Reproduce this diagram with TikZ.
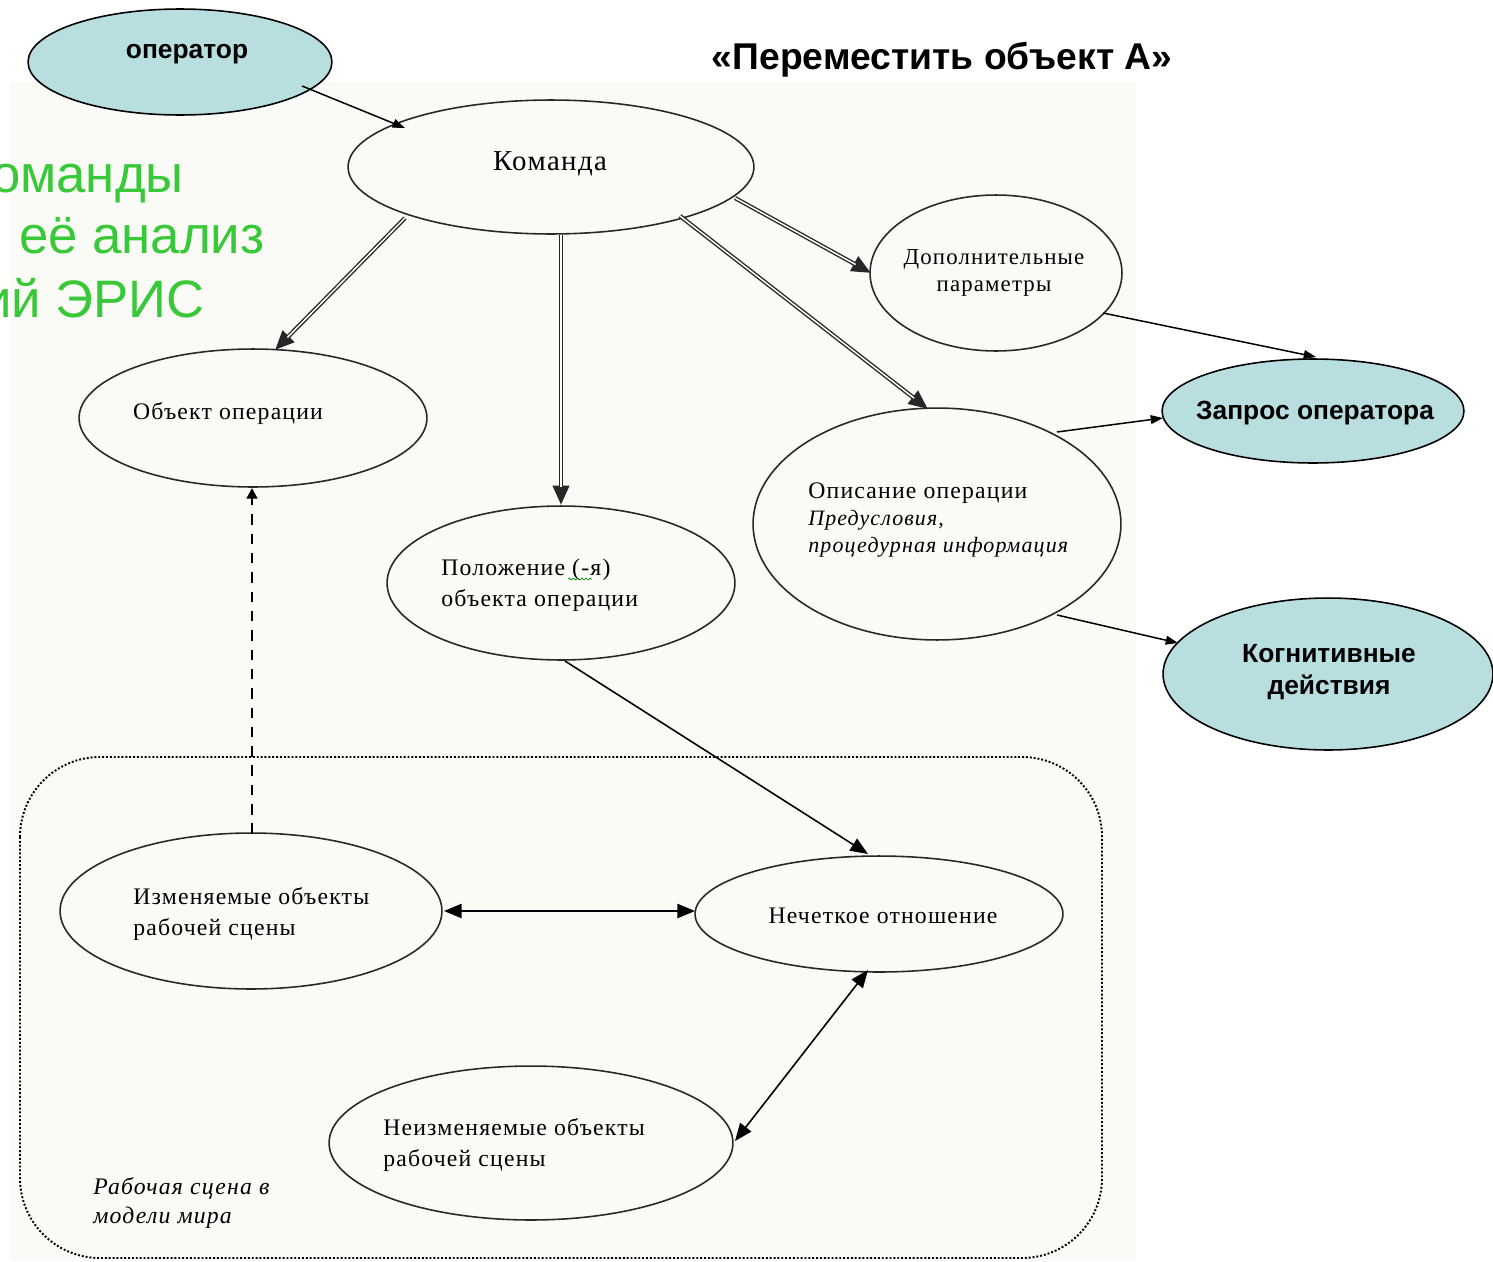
\documentclass[tikz,border=0pt]{standalone}
\usepackage{fontspec}
\setmainfont{Liberation Serif}
\setsansfont{Liberation Sans}
\newfontfamily\scrfont[LetterSpace=5]{Liberation Serif}
\usetikzlibrary{calc,arrows.meta,shapes.geometric,decorations.pathmorphing}

\definecolor{lightblue}{RGB}{184,222,224}
\definecolor{slidegreen}{RGB}{56,200,56}
\definecolor{shotbg}{RGB}{250,250,247}
\definecolor{outline}{RGB}{40,40,40}

\tikzset{
  esize/.style 2 args={minimum width={#1*0.04cm}, minimum height={#2*0.04cm}},
  ell/.style={ellipse, draw=outline, line width=0.9pt, inner sep=0pt},
  blueell/.style={ellipse, draw=black, line width=0.9pt, fill=lightblue, inner sep=0pt},
  lbl/.style={inner sep=0pt, font=\scrfont\fontsize{13.5}{17.6}\selectfont, align=left},
  boldlbl/.style={inner sep=0pt, font=\sffamily\bfseries\fontsize{15}{18}\selectfont, align=center},
  greentxt/.style={inner sep=0pt, text=slidegreen, font=\sffamily\fontsize{30}{36}\selectfont},
  thinarrow/.style={draw=black, line width=0.85pt, -{Triangle[length=7pt,width=5pt]}},
  wordarrow/.style={draw=black, line width=0.9pt, -{Triangle[length=10pt,width=8pt]}},
  twoway/.style={draw=black, line width=0.9pt, {Triangle[length=10pt,width=8pt]}-{Triangle[length=10pt,width=8pt]}},
  dblouter/.style={draw=black!85, line width=2.4pt, -{Triangle[length=11pt,width=9pt]}},
  dblinner/.style={draw=shotbg, line width=0.85pt, shorten >=10pt},
  dashedarrow/.style={draw=black, line width=1.3pt, dash pattern=on 6pt off 5pt, -{Triangle[length=6pt,width=6pt]}},
  sceneframe/.style={draw=black, line width=1.1pt, dash pattern=on 1.1pt off 1.1pt, rounded corners=1.6cm}
}

% double-line arrow: dark outer stroke with head, light inner stroke
\newcommand\dblarrow[2]{%
  \draw[dblouter] #1 -- #2;
  \draw[dblinner] #1 -- #2;
}

\begin{document}
\begin{tikzpicture}[x=0.02cm,y=-0.02cm]
\useasboundingbox (0,0) rectangle (1493,1261);
\clip (0,0) rectangle (1493,1261);

% screenshot backdrop
\fill[shotbg] (10,82) rectangle (1136,1261);

% slide heading fragments
\node[greentxt, anchor=base east] (g1) at (184,192) {оманды};
\node[greentxt, anchor=base east] (g2) at (265,253) {её анализ};
\node[greentxt, anchor=base east] (g3) at (205,317) {ий ЭРИС};

\node[inner sep=0pt, anchor=base, font=\sffamily\bfseries\fontsize{21.2}{25}\selectfont] (title) at (942,69) {«Переместить объект А»};

% working scene frame
\draw[sceneframe] (20,757) rectangle (1102,1258);

% ellipses
\node[blueell, esize={152}{53}] (op) at (180,62) {};
\node[ell, esize={203}{67}] (cmd) at (551,167) {};
\node[ell, esize={126}{78}] (par) at (996,273) {};
\node[ell, esize={174}{69}] (obj) at (253,418) {};
\node[ell, esize={174}{77}] (pos) at (561,583) {};
\node[ell, esize={184}{116}] (desc) at (937,524) {};
\node[blueell, esize={151}{52}] (zap) at (1313,411) {};
\node[blueell, esize={165}{76}] (kog) at (1328,674) {};
\node[ell, esize={191}{78}] (chg) at (251,911) {};
\node[ell, esize={184}{58}] (fuz) at (879,914) {};
\node[ell, esize={202}{77}] (fix) at (531,1143) {};

% texts
\node[boldlbl] (opT) at (187,54) {оператор};
\node[boldlbl] (zapT) at (1315,413) {Запрос оператора};
\node[boldlbl, font=\sffamily\bfseries\fontsize{15}{18.2}\selectfont] (kogT) at (1329,672) {Когнитивные\\действия};

\node[lbl, font=\scrfont\fontsize{16.4}{19}\selectfont] (cmdT) at (550,164) {Команда};
\node[lbl, align=center, font=\scrfont\fontsize{13}{15.3}\selectfont] (parT) at (994,273) {Дополнительные\\параметры};
\node[lbl] (objT) at (228,414) {Объект операции};
\node[lbl, anchor=west] (posT) at (441,585) {Положение (-я)\\объекта операции};
\node[lbl, anchor=west, font=\scrfont\fontsize{12.5}{15.6}\selectfont] (descT) at (808,520) {{\fontsize{13.5}{15.6}\selectfont Описание операции}\\\itshape Предусловия,\\\itshape процедурная информация};
\node[lbl, anchor=west] (chgT) at (133,914) {Изменяемые объекты\\рабочей сцены};
\node[lbl] (fuzT) at (883,916) {Нечеткое отношение};
\node[lbl, anchor=west] (fixT) at (383,1145) {Неизменяемые объекты\\рабочей сцены};
\node[lbl, anchor=west, font=\scrfont\itshape\fontsize{13.5}{17}\selectfont] (sceneT) at (93,1203) {Рабочая сцена в\\модели мира};

% spell-check squiggle under "(-я"
\draw[green!55!black, line width=0.4pt, decorate, decoration={snake, amplitude=0.5pt, segment length=2.4pt}]
  ($(posT.west)+(127,-6)$) -- ($(posT.west)+(151,-6)$);

% connectors
\draw[thinarrow] ($(op)+(122,24)$) -- ($(cmd)+(-146,-39)$);

\dblarrow{($(cmd)+(-146,51)$)}{($(obj)+(22,-68)$)}
\dblarrow{($(cmd)+(10,68)$)}{($(pos)+(0,-78)$)}
\dblarrow{($(cmd)+(184,31)$)}{($(par)+(-125,0)$)}
\dblarrow{($(cmd)+(129,49)$)}{($(desc)+(-9,-115)$)}

\draw[thinarrow] ($(par)+(107,40)$) -- ($(zap)+(3,-54)$);
\draw[thinarrow] ($(desc)+(120,-92)$) -- ($(zap)+(-150,7)$);
\draw[thinarrow] ($(desc)+(120,91)$) -- ($(kog)+(-150,-31)$);

\draw[dashedarrow] ($(chg)+(1,-77)$) -- ($(obj)+(-1,70)$);
\draw[wordarrow] ($(pos)+(4,78)$) -- ($(fuz)+(-11,-60)$);
\draw[twoway, line width=1.2pt] ($(chg)+(193,0)$) -- ($(fuz)+(-184,-3)$);
\draw[twoway] ($(fix)+(204,-2)$) -- ($(fuz)+(-11,56)$);
\end{tikzpicture}
\end{document}
